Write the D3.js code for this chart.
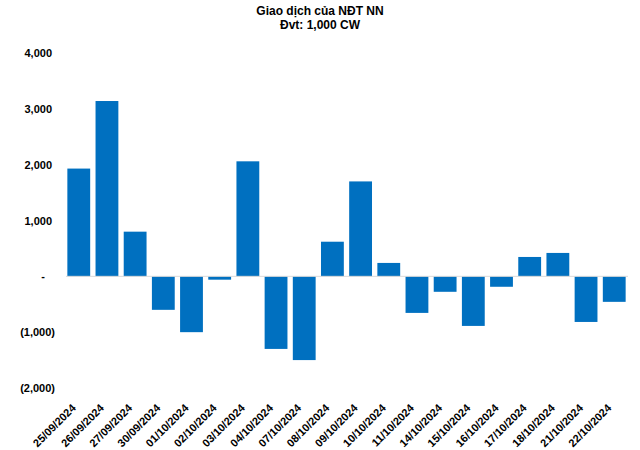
<!DOCTYPE html>
<html>
<head>
<meta charset="utf-8">
<script src="https://cdn.jsdelivr.net/npm/d3@7"></script>
<style>
  body { margin: 0; background: #fff; }
  text { font-family: Arial, "Liberation Sans", sans-serif; font-weight: bold; fill: #000; }
</style>
</head>
<body>
<div id="chart"></div>
<script>
// data
const dates = ['25/09/2024', '26/09/2024', '27/09/2024', '30/09/2024', '01/10/2024', '02/10/2024',
  '03/10/2024', '04/10/2024', '07/10/2024', '08/10/2024', '09/10/2024', '10/10/2024', '11/10/2024',
  '14/10/2024', '15/10/2024', '16/10/2024', '17/10/2024', '18/10/2024', '21/10/2024', '22/10/2024'];
const values = [1930, 3140, 800, -600, -1000, -60, 2060, -1300, -1500, 620, 1700, 240, -655,
  -277, -888, -187, 347, 419, -817, -457];
const yTicks = [-2000, -1000, 0, 1000, 2000, 3000, 4000];
const titleLines = ['Giao dịch của NĐT NN', 'Đvt: 1,000 CW'];

const W = 640, H = 450;
const m = { top: 53, right: 9, bottom: 62, left: 62 };

const svg = d3.select('#chart').append('svg')
  .attr('width', W).attr('height', H);

// title
svg.selectAll('.title').data(titleLines).enter()
  .append('text')
  .attr('x', 320).attr('y', (d, i) => 15 + i * 14)
  .attr('text-anchor', 'middle')
  .style('font-size', '12px')
  .text(d => d);

const x = d3.scaleBand().domain(dates).range([m.left, W - m.right]).padding(0.19);
const y = d3.scaleLinear().domain([-2000, 4000]).range([H - m.bottom, m.top]);

const fmt = v => v === 0 ? '-' : v < 0 ? '(' + d3.format(',')(-v) + ')' : d3.format(',')(v);

// y axis labels (no line), accounting-style alignment
const yAxis = d3.axisLeft(y).tickValues(yTicks).tickFormat(fmt).tickSize(0).tickPadding(0);
const gy = svg.append('g').attr('transform', 'translate(55,0)').call(yAxis);
gy.select('.domain').remove();
gy.selectAll('text')
  .style('font-size', '11px')
  .style('font-family', 'Arial, "Liberation Sans", sans-serif')
  .attr('dx', d => d === 0 ? -10 : d > 0 ? -3 : 0);

// bars
svg.selectAll('.bar').data(values).enter()
  .append('rect')
  .attr('x', (d, i) => x(dates[i]))
  .attr('width', x.bandwidth())
  .attr('y', d => y(Math.max(0, d)))
  .attr('height', d => Math.abs(y(d) - y(0)))
  .attr('fill', '#0070c0');

// zero line
svg.append('line')
  .attr('x1', 66).attr('x2', 628)
  .attr('y1', y(0)).attr('y2', y(0))
  .attr('stroke', '#d9d9d9').attr('stroke-width', 1);

// x labels
const xAxis = d3.axisBottom(x).tickSize(0).tickPadding(0);
const gx = svg.append('g').attr('transform', 'translate(0,406)').call(xAxis);
gx.select('.domain').remove();
gx.selectAll('text')
  .style('font-size', '11px')
  .style('font-family', 'Arial, "Liberation Sans", sans-serif')
  .attr('text-anchor', 'end')
  .attr('dy', '0.35em')
  .attr('transform', 'translate(-5,0) rotate(-45)');
</script>
</body>
</html>
